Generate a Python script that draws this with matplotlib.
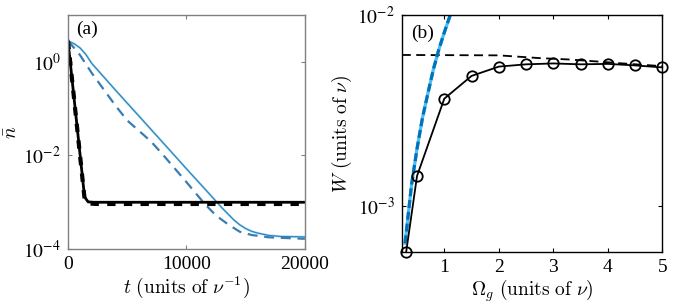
import numpy as np
import matplotlib
matplotlib.use("Agg")
import matplotlib.pyplot as plt
from matplotlib.ticker import FixedLocator, FixedFormatter, NullLocator

plt.rcParams['font.family'] = ['Liberation Serif', 'DejaVu Serif']
plt.rcParams['mathtext.fontset'] = 'stix'

# ---------------- Panel (a) data ----------------
t_black = [0, 1400, 1700, 2200, 20000]
n_black = [2.8, 1.3e-3, 1.02e-3, 1.0e-3, 1.0e-3]
t_black_d = [0, 1400, 1800, 2400, 20000]
n_black_d = [2.8, 1.2e-3, 9.4e-4, 9.2e-4, 9.2e-4]

t_blue = [0, 500, 1000, 1500, 2000, 4000, 6000, 8000, 10000, 12000, 13000, 14000, 14500,
          15000, 15500, 16000, 17000, 18000, 20000]
n_blue = [2.8, 2.45, 2.0, 1.45, 0.93, 0.25, 0.069, 0.019, 5.2e-3, 1.45e-3, 7.6e-4, 4.2e-4, 3.3e-4,
          2.75e-4, 2.4e-4, 2.2e-4, 1.95e-4, 1.86e-4, 1.82e-4]

t_blue_d = [0, 500, 1000, 2000, 4000, 5000, 7000, 8000, 10000, 11500, 12500, 13500, 14500, 15500, 17000, 20000]
n_blue_d = [2.8, 2.0, 1.41, 0.58, 0.117, 0.056, 0.02, 0.0105, 2.7e-3, 9.5e-4, 5.2e-4, 3.4e-4, 2.35e-4, 2.0e-4, 1.78e-4, 1.66e-4]

# ---------------- Panel (b) data ----------------
omega = [0.3, 0.5, 1.0, 1.5, 2.0, 2.5, 3.0, 3.5, 4.0, 4.5, 5.0]
W = [5.75e-4, 1.44e-3, 3.65e-3, 4.8e-3, 5.37e-3, 5.52e-3, 5.58e-3, 5.52e-3, 5.55e-3, 5.45e-3, 5.32e-3]

omega_lim = [0.22, 2.0, 2.75, 3.3, 3.85, 4.2, 4.8, 5.0]
W_lim = [6.18e-3, 6.15e-3, 5.95e-3, 5.85e-3, 5.7e-3, 5.6e-3, 5.45e-3, 5.4e-3]

omega_pert = [0.28, 0.4, 0.5, 0.6, 0.7, 0.8, 0.9, 1.0, 1.12]
W_pert = [6.4e-4, 1.3e-3, 2.0e-3, 2.9e-3, 3.9e-3, 5.2e-3, 6.6e-3, 8.1e-3, 1.02e-2]

LIGHT = '#4DBEEE'
DARK = '#0072BD'

fig = plt.figure(figsize=(6.73, 3.06), dpi=100)

# ---- (a)
ax1 = fig.add_axes([0.101, 0.186, 0.352, 0.765])
ax1.plot(t_blue, n_blue, color='#8FD3F2', lw=1.6)
ax1.plot(t_blue, n_blue, color='#2C78AE', lw=0.7)
ax1.plot(t_blue_d, n_blue_d, color='#3A7DB2', lw=1.6, dashes=(4.5, 3.0))
ax1.plot(t_black, n_black, color='black', lw=2.0)
ax1.plot(t_black_d, n_black_d, color='black', lw=3.0, dashes=(2.0, 2.0))
ax1.set_yscale('log')
ax1.set_xlim(0, 20000)
ax1.set_ylim(1e-4, 10)
ax1.xaxis.set_major_locator(FixedLocator([0, 10000, 20000]))
ax1.yaxis.set_major_locator(FixedLocator([1e-4, 1e-2, 1e0]))
ax1.yaxis.set_major_formatter(FixedFormatter([r'$10^{-4}$', r'$10^{-2}$', r'$10^{0}$']))
ax1.yaxis.set_minor_locator(NullLocator())
for s in ax1.spines.values():
    s.set_color('#808080')
    s.set_linewidth(1.0)
ax1.tick_params(which='both', direction='in', top=True, right=True, length=3,
                color='#808080', labelsize=14, pad=5)
ax1.set_xlabel(r'$t\ (\mathrm{units\ of}\ \nu^{-1})$', fontsize=14, math_fontfamily='cm', labelpad=1)
ax1.set_ylabel(r'$\bar{n}$', fontsize=14, math_fontfamily='cm', labelpad=2)
ax1.text(0.035, 0.975, '(a)', transform=ax1.transAxes, fontsize=14, va='top', ha='left')

# ---- (b)
ax2 = fig.add_axes([0.597, 0.176, 0.387, 0.775])
ax2.plot(omega_lim, W_lim, color='black', lw=1.3, dashes=(5, 3))
ax2.plot(omega_pert, W_pert, color=LIGHT, lw=2.3)
ax2.plot(omega_pert, W_pert, color=DARK, lw=2.3, dashes=(2.5, 1.2))
ax2.plot(omega, W, color='black', lw=1.3, marker='o', ms=7.5, mfc='none', mec='black', mew=1.3,
         clip_on=False, zorder=5)
ax2.set_yscale('log')
ax2.set_xlim(0.22, 5)
ax2.set_ylim(5.75e-4, 1e-2)
ax2.xaxis.set_major_locator(FixedLocator([1, 2, 3, 4, 5]))
ax2.yaxis.set_major_locator(FixedLocator([1e-3, 1e-2]))
ax2.yaxis.set_major_formatter(FixedFormatter([r'$10^{-3}$', r'$10^{-2}$']))
ax2.yaxis.set_minor_locator(NullLocator())
for s in ax2.spines.values():
    s.set_color('black')
    s.set_linewidth(1.0)
ax2.tick_params(which='both', direction='in', top=True, right=True, length=3,
                labelsize=14, pad=5)
ax2.set_xlabel(r'$\Omega_g\ (\mathrm{units\ of}\ \nu)$', fontsize=14, math_fontfamily='cm', labelpad=1)
ax2.set_ylabel(r'$W\ (\mathrm{units\ of}\ \nu)$', fontsize=14, math_fontfamily='cm', labelpad=2)
ax2.text(0.035, 0.96, '(b)', transform=ax2.transAxes, fontsize=14, va='top', ha='left')

fig.savefig('out.png', dpi=100)
